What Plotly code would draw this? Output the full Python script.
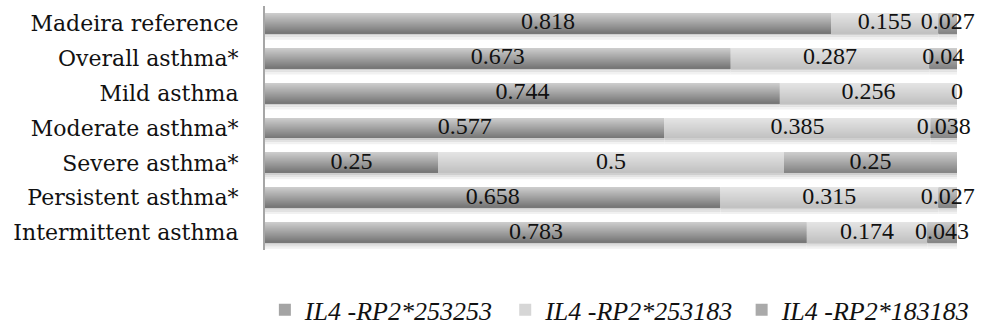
import plotly.graph_objects as go

# Genotype frequencies by asthma group
categories = [
    "Madeira reference",
    "Overall asthma*",
    "Mild asthma",
    "Moderate asthma*",
    "Severe asthma*",
    "Persistent asthma*",
    "Intermittent asthma",
]
series_names = ["IL4 -RP2*253253", "IL4 -RP2*253183", "IL4 -RP2*183183"]
g253253 = [0.818, 0.673, 0.744, 0.577, 0.25, 0.658, 0.783]
g253183 = [0.155, 0.287, 0.256, 0.385, 0.5, 0.315, 0.174]
g183183 = [0.027, 0.04, 0.0, 0.038, 0.25, 0.027, 0.043]

series_values = [g253253, g253183, g183183]

# vertical shading of each segment: (top colour, bottom colour)
shades = [((0xCC, 0xCC, 0xCC), (0x78, 0x78, 0x78)),
          ((0xE4, 0xE4, 0xE4), (0xC2, 0xC2, 0xC2)),
          ((0xCC, 0xCC, 0xCC), (0x86, 0x86, 0x86))]
legend_colors = ["#a4a4a4", "#d6d6d6", "#aaaaaa"]
shadow_colors = ["#cfcfcf", "#e2e2e2", "#f1f1f1"]

BAR_W = 0.574
N_STRIPS = 20
STEP = BAR_W / N_STRIPS
SHADOW_W = 0.06


def mix(c1, c2, t):
    return "rgb({},{},{})".format(*[round(a + (b - a) * t) for a, b in zip(c1, c2)])


def fmt(v):
    return f"{v:g}"


fig = go.Figure()

# cumulative starting point of every segment
bases = []
running = [0.0] * len(categories)
for vals in series_values:
    bases.append(list(running))
    running = [r + v for r, v in zip(running, vals)]

# soft shadow under each bar
for si, vals in enumerate(series_values):
    for k, col in enumerate(shadow_colors):
        fig.add_trace(go.Bar(
            orientation="h", y=categories, x=vals, base=bases[si],
            width=[SHADOW_W] * len(categories),
            offset=BAR_W / 2 + k * SHADOW_W,
            marker=dict(color=col, line=dict(width=0)),
            showlegend=False, hoverinfo="skip",
        ))

# shaded bar segments, drawn as thin overlapping horizontal strips
for si, vals in enumerate(series_values):
    top, bottom = shades[si]
    for k in range(N_STRIPS):
        t = k / (N_STRIPS - 1)
        w = STEP if k == N_STRIPS - 1 else STEP * 1.6
        fig.add_trace(go.Bar(
            orientation="h", y=categories, x=vals, base=bases[si],
            width=[w] * len(categories),
            offset=-BAR_W / 2 + k * STEP,
            marker=dict(color=mix(top, bottom, t), line=dict(width=0)),
            showlegend=False, hoverinfo="skip",
        ))

# one legend box per genotype so the three entries sit on a single line
legend_ids = ["legend", "legend2", "legend3"]
legend_x = [0.270, 0.515, 0.756]
for si, name in enumerate(series_names):
    fig.add_trace(go.Bar(
        orientation="h", y=[None], x=[None],
        marker=dict(color=legend_colors[si], line=dict(width=0)),
        name="<i>" + name + "</i>", showlegend=True, hoverinfo="skip",
        legend=legend_ids[si],
    ))

# value labels centred on each segment
for si, vals in enumerate(series_values):
    mids = [b + v / 2 for b, v in zip(bases[si], vals)]
    fig.add_trace(go.Scatter(
        x=mids, y=categories, mode="text",
        text=[fmt(v) for v in vals],
        textposition="middle center",
        textfont=dict(family="Liberation Serif", size=24, color="#111111"),
        showlegend=False, hoverinfo="skip", cliponaxis=False,
    ))

legend_style = dict(
    orientation="h", xref="container", yref="container",
    xanchor="left", y=0.124, yanchor="top",
    font=dict(family="Liberation Serif", size=26, color="#111111"),
    itemwidth=30, bgcolor="rgba(0,0,0,0)",
)

fig.update_layout(
    width=981, height=327,
    margin=dict(l=265, r=24, t=5.5, b=76.5),
    barmode="overlay",
    paper_bgcolor="white", plot_bgcolor="white",
    xaxis=dict(range=[0, 1], visible=False, fixedrange=True),
    yaxis=dict(
        categoryorder="array", categoryarray=categories,
        range=[6.5, -0.5],
        showline=True, linecolor="#a6a6a6", linewidth=2,
        ticks="", showgrid=False, zeroline=False,
        ticklabelstandoff=20,
        tickfont=dict(family="DejaVu Serif", size=22, color="#111111"),
    ),
    showlegend=True,
)
for lid, lx in zip(legend_ids, legend_x):
    fig.update_layout({lid: dict(legend_style, x=lx)})

fig.write_html("out.html")
